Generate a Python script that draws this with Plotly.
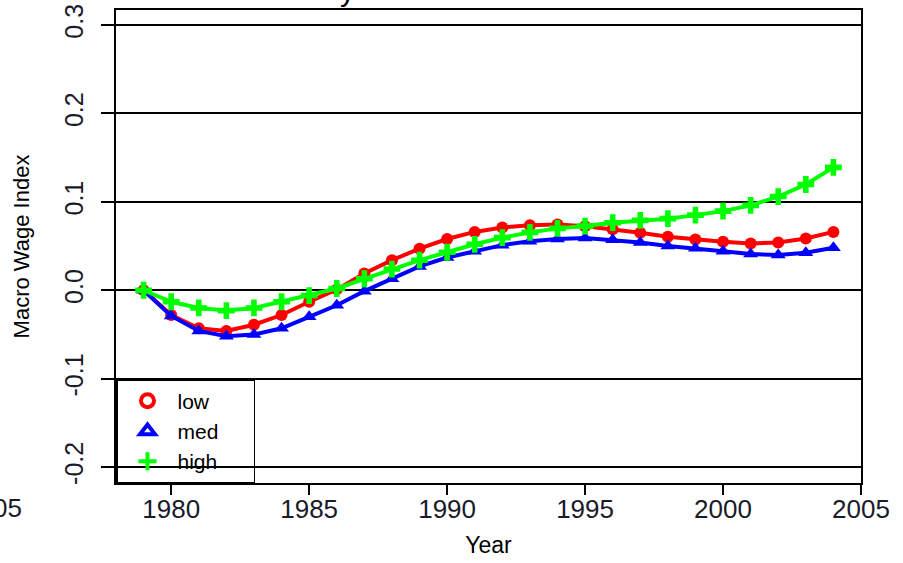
import plotly.graph_objects as go

years = list(range(1979, 2005))
low = [0, -0.028, -0.043, -0.046, -0.039, -0.028, -0.013, 0.001, 0.019, 0.034,
       0.047, 0.058, 0.066, 0.071, 0.0735, 0.0745, 0.0725, 0.069, 0.065, 0.0605,
       0.0575, 0.055, 0.053, 0.054, 0.0585, 0.066]
med = [0, -0.029, -0.046, -0.052, -0.050, -0.043, -0.030, -0.017, -0.001, 0.013,
       0.027, 0.037, 0.044, 0.051, 0.0555, 0.058, 0.059, 0.057, 0.054, 0.050,
       0.0475, 0.044, 0.041, 0.040, 0.0425, 0.048]
high = [0, -0.013, -0.020, -0.023, -0.020, -0.013, -0.006, 0.002, 0.013, 0.024,
        0.034, 0.043, 0.052, 0.0595, 0.0655, 0.070, 0.0726, 0.0764, 0.079, 0.081,
        0.085, 0.0895, 0.096, 0.106, 0.1196, 0.139]

x_ticks = [1980, 1985, 1990, 1995, 2000, 2005]
y_ticks = [-0.2, -0.1, 0.0, 0.1, 0.2, 0.3]
y_ticktext = ["-0.2", "-0.1", "0.0", "0.1", "0.2", "0.3"]

FONT = "Liberation Sans, Arial, sans-serif"
NB = "\u00a0"

series = [
    ("low", low, "#FF0000", "circle", "circle-open", 12),
    ("med", med, "#0000FF", "triangle-up", "triangle-up-open", 13),
    ("high", high, "#00FF00", "cross", "cross-thin-open", 14),
]

fig = go.Figure()
for name, vals, col, sym, legsym, sz in series:
    fig.add_trace(go.Scatter(
        x=years, y=vals, mode="lines+markers", name=name, showlegend=False,
        line=dict(color=col, width=4),
        marker=dict(symbol=sym, size=sz, color=col),
    ))
for name, vals, col, sym, legsym, sz in series:
    fig.add_trace(go.Scatter(
        x=[None], y=[None], mode="markers", name=name + NB * 5, showlegend=True,
        marker=dict(symbol=legsym, size=13, color=col,
                    line=dict(color=col, width=4)),
    ))

fig.update_layout(
    width=903, height=563,
    margin=dict(l=116, r=42, t=10, b=80),
    paper_bgcolor="white", plot_bgcolor="white",
    font=dict(family=FONT, color="black", size=24),
    xaxis=dict(
        range=[1978, 2005], tickvals=x_ticks, ticks="outside", ticklen=10,
        tickwidth=1.5, tickcolor="black", showgrid=False, zeroline=False,
        showline=True, linecolor="black", linewidth=1.5, mirror=True,
        automargin=False, ticklabelstandoff=-8,
        tickfont=dict(size=26, color="#1a1a2a"),
        title=dict(text="Year", font=dict(size=23), standoff=14),
    ),
    yaxis=dict(
        range=[-0.218, 0.317], tickvals=y_ticks, ticktext=y_ticktext,
        ticks="outside", ticklen=13, tickwidth=1.5, tickcolor="black",
        showgrid=True, gridcolor="black", gridwidth=1.5, zeroline=False,
        showline=True, linecolor="black", linewidth=1.5, mirror=True,
        automargin=False, ticklabelstandoff=8,
        tickangle=-90, tickfont=dict(size=25, color="#1a1a2a"),
        title=dict(text="Macro Wage Index", font=dict(size=22), standoff=25),
    ),
    legend=dict(
        x=0, y=0, xanchor="left", yanchor="bottom",
        bgcolor="rgba(0,0,0,0)", bordercolor="black", borderwidth=1.5,
        font=dict(size=21), itemwidth=50, tracegroupgap=0,
    ),
    annotations=[
        dict(text="2005", xref="paper", yref="paper", x=(24 - 116) / 745,
             y=-(508 - 483) / 473, xanchor="right", yanchor="middle",
             showarrow=False, font=dict(size=26, color="#1a1a2a")),
        dict(text="y", xref="paper", yref="paper", x=(347 - 116) / 745,
             y=1 + 1 / 473, xanchor="center", yanchor="bottom",
             showarrow=False, font=dict(size=30, color="black")),
    ],
)

fig.write_html("out.html")
